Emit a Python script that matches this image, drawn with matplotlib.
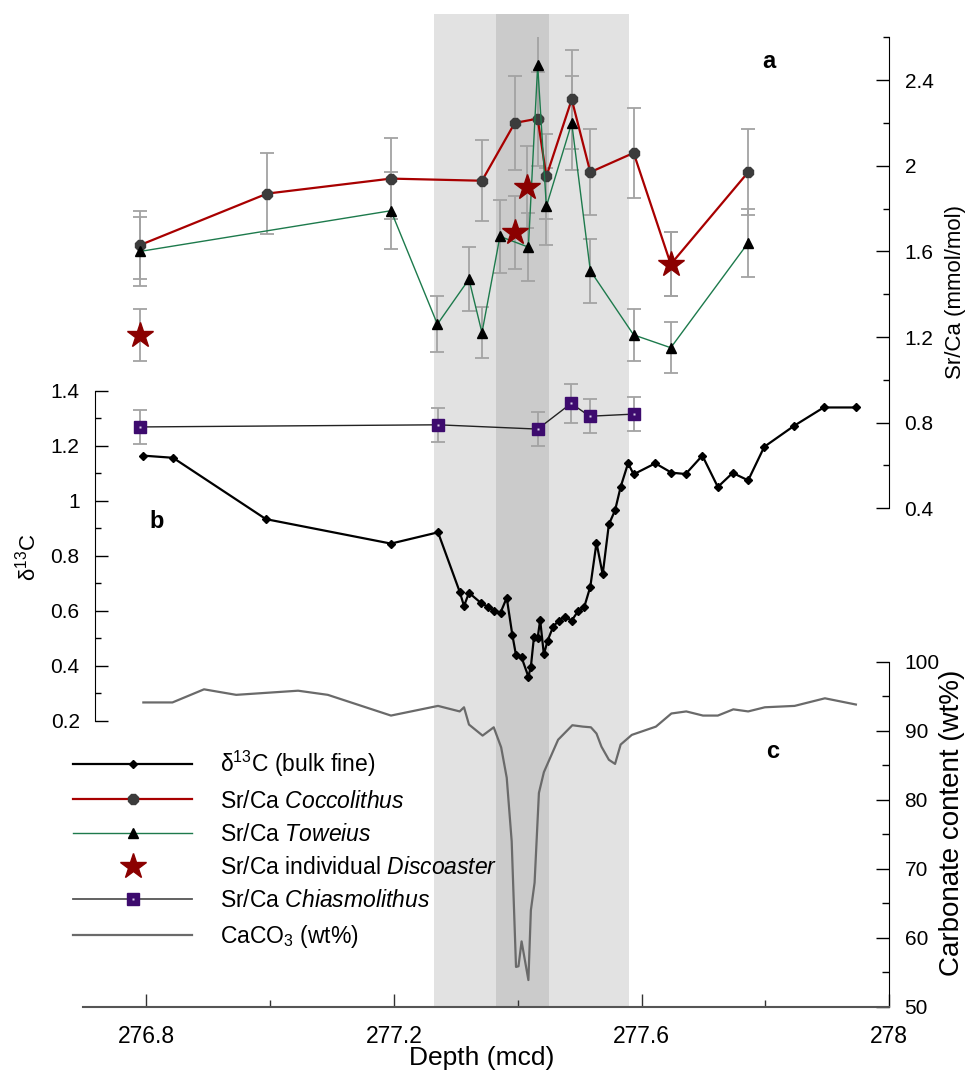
import matplotlib
matplotlib.use('Agg')
import matplotlib.pyplot as plt
from matplotlib.ticker import MultipleLocator, FuncFormatter
from matplotlib.lines import Line2D
from matplotlib.legend_handler import HandlerTuple

plt.rcParams['font.family'] = ['Liberation Sans', 'DejaVu Sans']
plt.rcParams['mathtext.fontset'] = 'custom'
plt.rcParams['mathtext.rm'] = 'Liberation Sans'
plt.rcParams['mathtext.it'] = 'Liberation Sans:italic'
plt.rcParams['mathtext.bf'] = 'Liberation Sans:bold'
plt.rcParams['mathtext.default'] = 'regular'

# ---------------- data ----------------
cocco_depth = [276.79, 276.995, 277.195, 277.342, 277.395, 277.432, 277.446, 277.487, 277.517, 277.587, 277.647, 277.772]
cocco_srca = [1.63, 1.87, 1.94, 1.93, 2.20, 2.22, 1.95, 2.31, 1.97, 2.06, 1.54, 1.97]
cocco_err = [0.16, 0.19, 0.19, 0.19, 0.22, 0.22, 0.20, 0.23, 0.20, 0.21, 0.15, 0.20]

tow_depth = [276.79, 277.195, 277.27, 277.321, 277.342, 277.371, 277.417, 277.432, 277.446, 277.487, 277.517, 277.587, 277.647, 277.772]
tow_srca = [1.60, 1.79, 1.26, 1.47, 1.22, 1.67, 1.62, 2.47, 1.81, 2.20, 1.51, 1.21, 1.15, 1.64]
tow_err = [0.16, 0.18, 0.13, 0.15, 0.12, 0.17, 0.16, 0.25, 0.18, 0.22, 0.15, 0.12, 0.12, 0.16]

disco_depth = [276.79, 277.395, 277.415, 277.647]
disco_srca = [1.21, 1.69, 1.90, 1.54]
disco_err = [0.12, 0.17, 0.19, 0.15]

chias_depth = [276.79, 277.271, 277.432, 277.486, 277.516, 277.587]
chias_srca = [0.78, 0.79, 0.77, 0.89, 0.83, 0.84]
chias_err = [0.08, 0.08, 0.08, 0.09, 0.08, 0.08]

d13c_depth = [276.794, 276.843, 276.993, 277.195, 277.271, 277.306, 277.313, 277.321, 277.341, 277.351,
              277.362, 277.372, 277.382, 277.391, 277.397, 277.406, 277.417, 277.421, 277.426, 277.432,
              277.436, 277.442, 277.448, 277.457, 277.466, 277.476, 277.487, 277.497, 277.507, 277.517,
              277.527, 277.537, 277.547, 277.557, 277.566, 277.578, 277.587, 277.622, 277.648, 277.671,
              277.698, 277.723, 277.747, 277.772, 277.798, 277.846, 277.894, 277.946]
d13c = [1.164, 1.156, 0.933, 0.844, 0.885, 0.669, 0.617, 0.665, 0.627, 0.615,
        0.600, 0.593, 0.647, 0.513, 0.438, 0.430, 0.360, 0.396, 0.505, 0.502,
        0.566, 0.441, 0.491, 0.542, 0.564, 0.578, 0.564, 0.598, 0.612, 0.687,
        0.847, 0.732, 0.914, 0.965, 1.050, 1.136, 1.096, 1.136, 1.102, 1.097,
        1.164, 1.050, 1.101, 1.074, 1.196, 1.272, 1.339, 1.339]

caco3_depth = [276.795, 276.842, 276.893, 276.945, 277.045, 277.093, 277.195, 277.271, 277.306, 277.313,
               277.321, 277.343, 277.361, 277.373, 277.382, 277.390, 277.397, 277.401, 277.406, 277.417,
               277.421, 277.427, 277.434, 277.442, 277.465, 277.488, 277.505, 277.518, 277.527, 277.535,
               277.547, 277.557, 277.566, 277.584, 277.623, 277.648, 277.672, 277.699, 277.723, 277.748,
               277.772, 277.799, 277.847, 277.896, 277.946]
caco3 = [94.1, 94.1, 96.0, 95.2, 95.8, 95.2, 92.2, 93.6, 92.8, 93.4,
         90.9, 89.3, 90.5, 87.6, 83.2, 74.0, 55.8, 55.9, 59.5, 53.9,
         64.0, 68.0, 81.0, 84.0, 88.7, 90.8, 90.6, 90.5, 89.6, 87.7,
         85.8, 85.2, 88.0, 89.4, 90.6, 92.5, 92.8, 92.2, 92.2, 93.1,
         92.8, 93.4, 93.6, 94.7, 93.8]

light_band = (277.265, 277.58)
dark_band = (277.365, 277.45)

x_major = [276.8, 277.2, 277.6, 278.0]

# ---------------- layout ----------------
W, H = 968, 1073
fig = plt.figure(figsize=(W / 100, H / 100), dpi=100)


def rect(x0, y0, x1, y1):
    return [x0 / W, 1 - y1 / H, (x1 - x0) / W, (y1 - y0) / H]


XL = (276.698, 278.0)
AX_L, AX_R = 83.3, 889.3
fmt = FuncFormatter(lambda v, p: f'{v:g}')
TICK_FS = 15
XTICK_FS = 16.5

# background shading
ax_bg = fig.add_axes(rect(AX_L, 14, AX_R, 1007), zorder=0)
ax_bg.set_xlim(XL)
ax_bg.set_ylim(0, 1)
ax_bg.axis('off')
ax_bg.axvspan(*light_band, color='#e2e2e2', lw=0)
ax_bg.axvspan(*dark_band, color='#cbcbcb', lw=0)

# ---- panel c: carbonate ----
ax_c = fig.add_axes(rect(AX_L, 661.7, AX_R, 1007), zorder=1)
ax_c.patch.set_alpha(0)
ax_c.set_xlim(XL)
ax_c.set_ylim(50, 100)
ax_c.plot(caco3_depth, caco3, color='#6a6a6a', lw=1.6)
for s in ['top', 'left']:
    ax_c.spines[s].set_visible(False)
ax_c.spines['bottom'].set_color('#555555')
ax_c.spines['bottom'].set_linewidth(1.5)
ax_c.yaxis.tick_right()
ax_c.yaxis.set_major_locator(MultipleLocator(10))
ax_c.yaxis.set_minor_locator(MultipleLocator(5))
ax_c.set_xticks(x_major)
ax_c.xaxis.set_minor_locator(MultipleLocator(0.2))
ax_c.xaxis.set_major_formatter(fmt)
ax_c.yaxis.set_major_formatter(fmt)
ax_c.tick_params(axis='y', which='major', direction='in', length=9.5, width=1, labelsize=TICK_FS, pad=11)
ax_c.tick_params(axis='y', which='minor', direction='in', length=5, width=1)
ax_c.tick_params(axis='x', which='major', direction='in', length=9.5, width=1, labelsize=XTICK_FS, pad=13,
                 color='#333333')
ax_c.tick_params(axis='x', which='minor', direction='in', length=5, width=1, color='#333333')

# ---- panel b: d13C ----
ax_b = fig.add_axes(rect(AX_L, 390.7, AX_R, 720.7), zorder=2)
ax_b.patch.set_alpha(0)
ax_b.set_xlim(XL)
ax_b.set_ylim(0.2, 1.4)
ax_b.plot(d13c_depth, d13c, color='black', lw=1.6, marker='D', ms=4.5, mfc='black', mec='black')
for s in ['top', 'right', 'bottom']:
    ax_b.spines[s].set_visible(False)
ax_b.spines['left'].set_position(('axes', (95 - AX_L) / (AX_R - AX_L)))
ax_b.set_xticks([])
ax_b.yaxis.set_major_locator(MultipleLocator(0.2))
ax_b.yaxis.set_minor_locator(MultipleLocator(0.1))
ax_b.yaxis.set_major_formatter(fmt)
ax_b.tick_params(axis='y', which='major', direction='in', length=9, width=1, labelsize=TICK_FS, pad=11)
ax_b.tick_params(axis='y', which='minor', direction='in', length=4.5, width=1)

# ---- panel a: Sr/Ca ----
ax_a = fig.add_axes(rect(AX_L, 37.3, AX_R, 508.3), zorder=3)
ax_a.patch.set_alpha(0)
ax_a.set_xlim(XL)
ax_a.set_ylim(0.4, 2.6)
ebkw = dict(ecolor='#a3a3a3', elinewidth=1.3, capsize=5, capthick=1.3, fmt='none', zorder=2)
ax_a.errorbar(chias_depth, chias_srca, yerr=chias_err, **ebkw)
ax_a.errorbar(cocco_depth, cocco_srca, yerr=cocco_err, **ebkw)
ax_a.errorbar(tow_depth, tow_srca, yerr=tow_err, **ebkw)
ax_a.errorbar(disco_depth, disco_srca, yerr=disco_err, **ebkw)
ax_a.plot(chias_depth, chias_srca, color='#222222', lw=1.0, marker='s', ms=8,
          mfc='#3d0b6e', mec='#3d0b6e', zorder=4)
ax_a.plot(chias_depth, chias_srca, ls='none', marker='s', ms=2, mfc='#d8d0e8', mec='none', zorder=5)
ax_a.plot(cocco_depth, cocco_srca, color='#a80000', lw=1.6, marker='8', ms=7.5,
          mfc='#3c3c3c', mec='#3c3c3c', zorder=4)
ax_a.plot(tow_depth, tow_srca, color='#1d7a4c', lw=1.0, marker='^', ms=6.5,
          mfc='black', mec='black', zorder=5)
ax_a.plot(disco_depth, disco_srca, ls='none', marker='*', ms=19, mfc='#8b0000', mec='#8b0000', zorder=6)
for s in ['top', 'left', 'bottom']:
    ax_a.spines[s].set_visible(False)
ax_a.set_xticks([])
ax_a.yaxis.tick_right()
ax_a.yaxis.set_major_locator(MultipleLocator(0.4))
ax_a.yaxis.set_minor_locator(MultipleLocator(0.2))
ax_a.yaxis.set_major_formatter(fmt)
ax_a.tick_params(axis='y', which='major', direction='in', length=9.5, width=1, labelsize=TICK_FS, pad=11)
ax_a.tick_params(axis='y', which='minor', direction='in', length=4.5, width=1)

# panel letters (pixel coords from top-left)
for letter, px, py in [('a', 769, 61), ('b', 157, 522), ('c', 773, 752)]:
    fig.text(px / W, 1 - py / H, letter, fontsize=17, fontweight='bold', ha='center', va='center')

# axis labels
fig.text(956 / W, 1 - 292 / H, 'Sr/Ca (mmol/mol)', rotation=90, ha='center', va='center', fontsize=16)
fig.text(952 / W, 1 - 823 / H, 'Carbonate content (wt%)', rotation=90, ha='center', va='center', fontsize=20)
fig.text(28 / W, 1 - 557 / H, r'δ$^{13}$C', rotation=90, ha='center', va='center', fontsize=16)
fig.text(482 / W, 1 - 1058 / H, 'Depth (mcd)', ha='center', va='center', fontsize=19)

# legend
h_d13c = Line2D([], [], color='black', lw=1.6, marker='D', ms=4.5)
h_cocco = Line2D([], [], color='#a80000', lw=1.6, marker='8', ms=7.5, mfc='#3c3c3c', mec='#3c3c3c')
h_tow = Line2D([], [], color='#1d7a4c', lw=1.0, marker='^', ms=6.5, mfc='black', mec='black')
h_disco = Line2D([], [], ls='none', marker='*', ms=19, mfc='#8b0000', mec='#8b0000')
h_chias = (Line2D([], [], color='#555555', lw=1.3, marker='s', ms=8, mfc='#3d0b6e', mec='#3d0b6e'),
           Line2D([], [], ls='none', marker='s', ms=2, mfc='#d8d0e8', mec='none'))
h_caco3 = Line2D([], [], color='#6a6a6a', lw=1.6)
labels = [r'δ$^{13}$C (bulk fine)', r'Sr/Ca $\mathit{Coccolithus}$', r'Sr/Ca $\mathit{Toweius}$',
          r'Sr/Ca individual $\mathit{Discoaster}$', r'Sr/Ca $\mathit{Chiasmolithus}$', r'CaCO$_3$ (wt%)']
fig.legend([h_d13c, h_cocco, h_tow, h_disco, h_chias, h_caco3], labels,
           loc='upper left', bbox_to_anchor=(73 / W, 1 - 749 / H), frameon=False,
           fontsize=16.5, handlelength=5.2, handletextpad=1.2, labelspacing=0.45,
           borderpad=0, borderaxespad=0, handler_map={tuple: HandlerTuple(ndivide=1, pad=0)})

fig.savefig('out.png', dpi=100)
